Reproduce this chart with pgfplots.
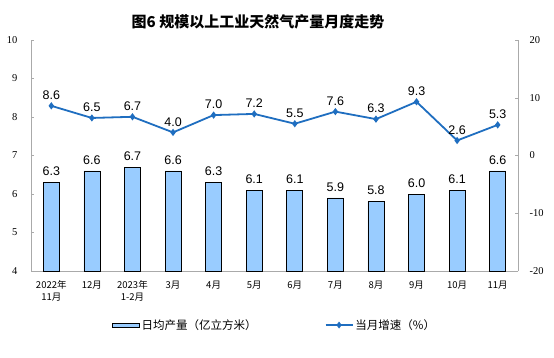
\documentclass[border=0pt]{standalone}
\usepackage{fontspec}
\setmainfont{Liberation Sans}
\newfontfamily\cjk{Noto Sans CJK SC}
\newfontfamily\serif{Liberation Serif}
\usepackage{pgfplots}
\pgfplotsset{compat=1.18}
\definecolor{barfill}{RGB}{153,204,255}
\definecolor{linecol}{RGB}{31,110,192}
\definecolor{axgray}{RGB}{170,170,170}
\begin{document}
\begin{tikzpicture}
\useasboundingbox (0,0) rectangle (554pt,357pt);
\node[font=\cjk\bfseries\fontsize{15}{17}\selectfont] at (258pt,335pt) {图6\ 规模以上工业天然气产量月度走势};
\begin{axis}[
  at={(31pt,86pt)}, anchor=south west, scale only axis,
  width=487pt, height=231pt,
  xmin=-0.5, xmax=11.5, ymin=4, ymax=10,
  ytick={4,5,...,10},
  axis x line*=bottom, axis y line*=left,
  axis line style={axgray, line width=0.9pt, -},
  tick align=inside,
  major tick length=3pt, minor tick length=3pt,
  y tick style={axgray},
  xtick={0,...,11},
  xticklabels={{2022年\\11月},12月,{2023年\\1-2月},3月,4月,5月,6月,7月,8月,9月,10月,11月},
  x tick style={draw=none},
  minor xtick={0.5,1.5,...,10.5},
  minor x tick style={axgray},
  x tick label style={font=\cjk\fontsize{9.5}{11.5}\selectfont, align=center, yshift=-3pt},
  y tick label style={font=\serif\fontsize{10.5}{12}\selectfont, xshift=-10pt},
  /pgf/number format/assume math mode=true,
  ybar, bar width=16pt,
  nodes near coords,
  every node near coord/.append style={font=\fontsize{12.5}{14}\selectfont, black, yshift=3pt, /pgf/number format/.cd, fixed, fixed zerofill, precision=1, assume math mode=true},
]
\addplot[draw=black, fill=barfill, line width=0.7pt] coordinates {
(0,6.3) (1,6.6) (2,6.7) (3,6.6) (4,6.3) (5,6.1) (6,6.1) (7,5.9) (8,5.8) (9,6.0) (10,6.1) (11,6.6)};
\end{axis}
\begin{axis}[
  at={(31pt,86pt)}, anchor=south west, scale only axis,
  width=487pt, height=231pt,
  xmin=-0.5, xmax=11.5, ymin=-20, ymax=20,
  ytick={-20,-10,...,20},
  axis x line=none, axis y line*=right,
  axis line style={axgray, line width=0.9pt, -},
  tick align=inside, major tick length=3pt,
  y tick style={axgray},
  /pgf/number format/assume math mode=true,
  y tick label style={font=\serif\fontsize{10.5}{12}\selectfont, xshift=8pt},
  legend style={at={(0.5,-0.234)}, anchor=center, draw=none, font=\cjk\fontsize{11.5}{13}\selectfont, legend columns=2, /tikz/every even column/.append style={column sep=66pt}, /tikz/every odd column/.append style={}, inner xsep=0pt},
  legend image code/.code={},
]
\addlegendimage{legend image code/.code={\draw[draw=black, fill=barfill, line width=0.7pt] (0pt,-2pt) rectangle (27pt,2pt);}}
\addlegendentry{日均产量（亿立方米）}
\addplot[color=linecol, line width=1.8pt, mark=diamond*, mark size=2.2pt, mark options={solid},
  nodes near coords, every node near coord/.append style={font=\fontsize{12.5}{14}\selectfont, black, yshift=2pt},
  point meta=explicit symbolic,
  legend image code/.code={\draw[linecol, line width=1.8pt] (0pt,0pt) -- (27pt,0pt); \fill[linecol] (13.5pt,0pt) +(0,2pt) -- +(1.5pt,0) -- +(0,-2pt) -- +(-1.5pt,0) -- cycle;}]
  coordinates {
(0,8.6) [8.6] (1,6.5) [6.5] (2,6.7) [6.7] (3,4.0) [4.0] (4,7.0) [7.0] (5,7.2) [7.2] (6,5.5) [5.5] (7,7.6) [7.6] (8,6.3) [6.3] (9,9.3) [9.3] (10,2.6) [2.6] (11,5.3) [5.3]};
\addlegendentry{当月增速（\%）}
\end{axis}
\end{tikzpicture}
\end{document}
